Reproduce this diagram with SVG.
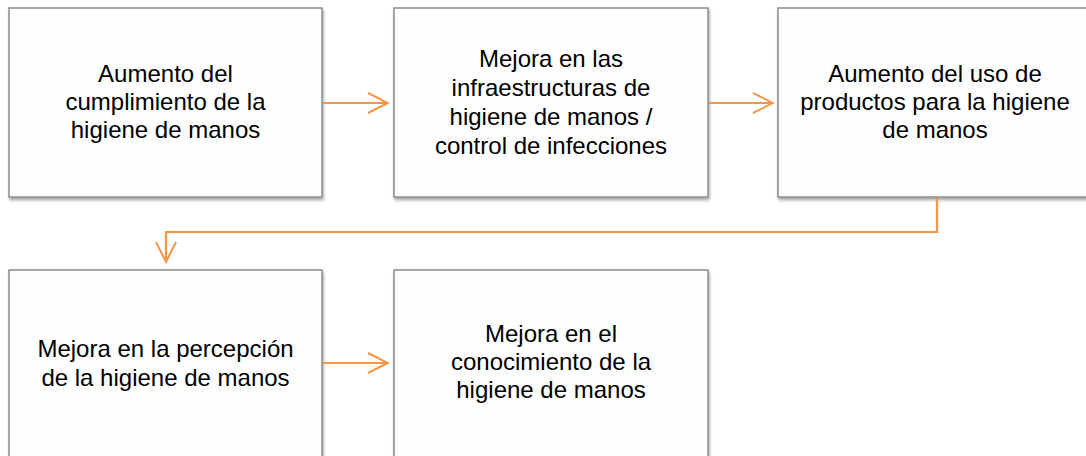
<svg xmlns="http://www.w3.org/2000/svg" width="1086" height="456" viewBox="0 0 1086 456">
<defs>
<filter id="sh" x="-5%" y="-5%" width="112%" height="115%">
<feDropShadow dx="1" dy="2.5" stdDeviation="1.8" flood-color="#000" flood-opacity="0.35"/>
</filter>
<marker id="ah" markerWidth="24" markerHeight="24" viewBox="-22 -12 24 24" refX="0" refY="0" orient="auto" markerUnits="userSpaceOnUse">
<path d="M-20,-10 L0,0 L-20,10" fill="none" stroke="#f79646" stroke-width="2"/>
</marker>
<style>
.box{fill:#fefefe;stroke:#8c8c8c;stroke-width:1.5;filter:url(#sh)}
.t{font-family:"Liberation Sans",Arial,sans-serif;font-size:24px;fill:#000;text-anchor:middle}
.c{fill:none;stroke:#f79646;stroke-width:2.2;marker-end:url(#ah)}
</style>
</defs>
<rect width="1086" height="456" fill="#fff"/>
<g id="n1">
<rect class="box" x="9" y="8" width="313" height="189"/>
<text class="t" x="165.5" y="82">Aumento del</text>
<text class="t" x="165.5" y="110">cumplimiento de la</text>
<text class="t" x="165.5" y="138">higiene de manos</text>
</g>
<g id="n2">
<rect class="box" x="394" y="8" width="314" height="189"/>
<text class="t" x="551" y="67">Mejora en las</text>
<text class="t" x="551" y="96">infraestructuras de</text>
<text class="t" x="551" y="125">higiene de manos /</text>
<text class="t" x="551" y="154">control de infecciones</text>
</g>
<g id="n3">
<rect class="box" x="778" y="8" width="314" height="189"/>
<text class="t" x="935" y="82">Aumento del uso de</text>
<text class="t" x="935" y="110">productos para la higiene</text>
<text class="t" x="935" y="138">de manos</text>
</g>
<g id="n4">
<rect class="box" x="9" y="270" width="313" height="190"/>
<text class="t" x="165.5" y="357">Mejora en la percepción</text>
<text class="t" x="165.5" y="386">de la higiene de manos</text>
</g>
<g id="n5">
<rect class="box" x="394" y="270" width="314" height="190"/>
<text class="t" x="551" y="342">Mejora en el</text>
<text class="t" x="551" y="370">conocimiento de la</text>
<text class="t" x="551" y="398">higiene de manos</text>
</g>
<g id="connectors">
<path class="c" d="M323,103 L388,103"/>
<path class="c" d="M709,103 L773,103"/>
<path class="c" d="M937,198 L937,232 L166,232 L166,262"/>
<path class="c" d="M323,363 L388,363"/>
</g>
</svg>
